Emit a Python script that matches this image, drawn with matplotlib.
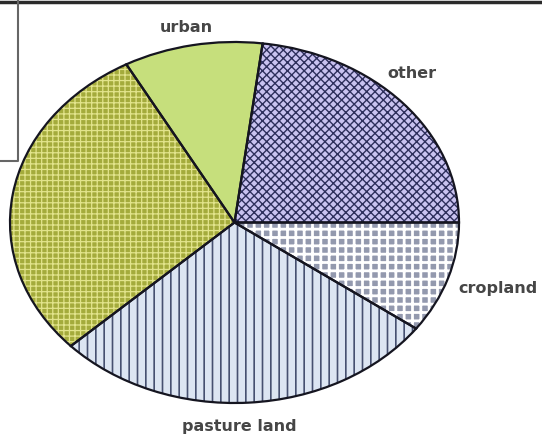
import matplotlib
matplotlib.use("Agg")
import matplotlib.pyplot as plt
from matplotlib.lines import Line2D

# slice shares in percent, counter-clockwise from 3 o'clock
categories = ["other", "urban", "forest", "pasture land", "cropland"]
shares = [23, 10, 29, 28, 10]
shown_labels = ["other", "urban", None, "pasture land", "cropland"]

fills = ["#c9c2f0", "#c6df7c", "#a4ab3c", "#dce5f2", "#9399ae"]
hatches = ["xxxx", None, "+++", "||", "++"]
hatch_colors = ["#2e2f5c", "#c6df7c", "#e2e48c", "#465070", "#ffffff"]
hatch_widths = [1.0, 1.0, 0.9, 1.2, 2.0]

# label centres in pixels (x from left, y from top)
label_pos = [(412, 73), (186, 28), None, (239, 426), (498, 289)]

W, H = 542, 434
fig = plt.figure(figsize=(W / 100, H / 100), dpi=100)
fig.patch.set_facecolor("white")

# the pie is drawn stretched into an ellipse
left, right, top, bottom = 10, 459, 42, 403
ax = fig.add_axes([left / W, (H - bottom) / H, (right - left) / W, (bottom - top) / H])

fill_wedges, _ = ax.pie(shares, startangle=0, counterclock=True,
                        wedgeprops=dict(linewidth=0, clip_on=False))
for w, fc, hatch, hc, hw in zip(fill_wedges, fills, hatches, hatch_colors, hatch_widths):
    w.set_facecolor(fc)
    w.set_edgecolor(hc)
    if hatch:
        w.set_hatch(hatch)
        if hasattr(w, "set_hatch_linewidth"):
            w.set_hatch_linewidth(hw)

# black outlines on top
ax.pie(shares, startangle=0, counterclock=True,
       wedgeprops=dict(fill=False, edgecolor="#151520", linewidth=1.6, clip_on=False))

ax.set_aspect("auto")
ax.set_xlim(-1, 1)
ax.set_ylim(-1, 1)
ax.axis("off")

for label, pos in zip(shown_labels, label_pos):
    if label is None:
        continue
    fig.text(pos[0] / W, 1 - pos[1] / H, label, ha="center", va="center",
             fontsize=11.5, fontweight="bold", color="#464646", family="DejaVu Sans")

# frame bits from the cropped scan
fig.add_artist(Line2D([0, 1], [1 - 1.5 / H, 1 - 1.5 / H], transform=fig.transFigure,
                      color="#2a2a2a", linewidth=2.5))
fig.add_artist(Line2D([17.5 / W, 17.5 / W, 0], [1, 1 - 161 / H, 1 - 161 / H],
                      transform=fig.transFigure, color="#666666", linewidth=1.5))

fig.savefig("out.png", dpi=100)
